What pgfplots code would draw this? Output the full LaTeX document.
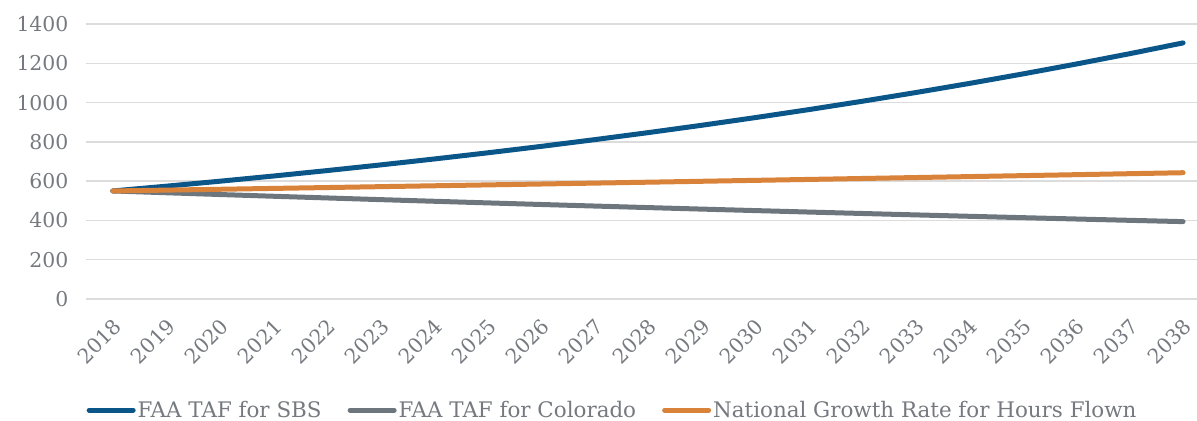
\documentclass[border=0pt]{standalone}
\usepackage{fontspec}
\setmainfont{DejaVu Serif}
\usepackage{pgfplots}
\pgfplotsset{compat=1.18}

\definecolor{sbsblue}{HTML}{0B5689}
\definecolor{cogray}{HTML}{6E767D}
\definecolor{natorange}{HTML}{D9823A}
\definecolor{txtgray}{HTML}{767A80}
\definecolor{gridgray}{HTML}{DCDCDC}

\begin{document}
\begin{tikzpicture}[x=1bp,y=1bp]
  \begin{axis}[
      scale only axis,
      width=1111bp, height=275bp,
      xmin=2017.5, xmax=2038.26,
      ymin=0, ymax=1400,
      ytick={0,200,...,1400},
      xtick={2018,2019,...,2038},
      axis line style={draw=none},
      major tick length=0pt,
      ymajorgrids=true,
      grid style={gridgray, line width=1.5bp},
      /pgf/number format/assume math mode=true,
      /pgf/number format/1000 sep={},
      tick label style={font=\fontsize{20.5}{24}\selectfont, text=txtgray},
      yticklabel style={xshift=-14bp},
      xticklabel style={rotate=45, anchor=east, xshift=-10bp, yshift=-20.5bp},
      legend columns=3,
      legend style={at={(0.474,-0.404)}, anchor=center, draw=none,
        font=\fontsize{21.5}{25}\selectfont, text=txtgray,
        /tikz/every even column/.append style={column sep=24bp}},
      legend image code/.code={
        \draw[#1, line width=5bp, line cap=round] (0bp,0bp) -- (44bp,0bp);},
      clip=false,
    ]
    \addplot[sbsblue, line width=5bp, line cap=round] coordinates {
      (2018,550.0) (2019,574.3) (2020,599.6) (2021,626.0) (2022,653.6)
      (2023,682.5) (2024,712.6) (2025,744.0) (2026,776.8) (2027,811.1)
      (2028,846.8) (2029,884.2) (2030,923.2) (2031,963.9) (2032,1006.4)
      (2033,1050.8) (2034,1097.1) (2035,1145.5) (2036,1196.0) (2037,1248.7)
      (2038,1303.8)
    };
    \addlegendentry{FAA TAF for SBS}
    \addplot[cogray, line width=5bp, line cap=round] coordinates {
      (2018,550.0) (2019,540.9) (2020,531.9) (2021,523.1) (2022,514.5)
      (2023,505.9) (2024,497.6) (2025,489.3) (2026,481.2) (2027,473.3)
      (2028,465.4) (2029,457.7) (2030,450.2) (2031,442.7) (2032,435.4)
      (2033,428.2) (2034,421.1) (2035,414.1) (2036,407.3) (2037,400.5)
      (2038,393.9)
    };
    \addlegendentry{FAA TAF for Colorado}
    \addplot[natorange, line width=5bp, line cap=round] coordinates {
      (2018,550.0) (2019,554.3) (2020,558.6) (2021,563.0) (2022,567.4)
      (2023,571.9) (2024,576.4) (2025,580.9) (2026,585.4) (2027,590.0)
      (2028,594.6) (2029,599.3) (2030,604.0) (2031,608.7) (2032,613.5)
      (2033,618.3) (2034,623.1) (2035,628.0) (2036,632.9) (2037,637.9)
      (2038,642.9)
    };
    \addlegendentry{National Growth Rate for Hours Flown}
  \end{axis}
  \pgfresetboundingbox
  \path (-86bp,-122bp) rectangle (1111bp,299bp);
\end{tikzpicture}
\end{document}
